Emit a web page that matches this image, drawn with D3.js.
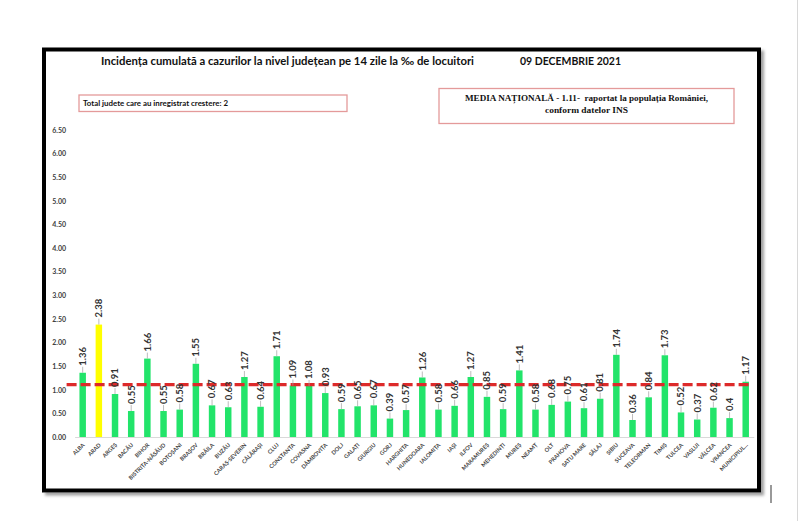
<!DOCTYPE html>
<html>
<head>
<meta charset="utf-8">
<script src="https://cdn.jsdelivr.net/npm/d3@7"></script>
<style>
  body { margin: 0; background: #fff; }
  svg { display: block; }
  .tick text { font-family: Lato, "Open Sans", sans-serif; font-weight: bold; }
</style>
</head>
<body>
<div id="chart"></div>
<script>
// Judete si valorile incidentei (‰ locuitori), 09 decembrie 2021
const judete = ['ALBA', 'ARAD', 'ARGEȘ', 'BACĂU', 'BIHOR', 'BISTRIȚA-NĂSĂUD', 'BOTOȘANI', 'BRAȘOV',
    'BRĂILA', 'BUZĂU', 'CARAȘ-SEVERIN', 'CĂLĂRAȘI', 'CLUJ', 'CONSTANȚA', 'COVASNA', 'DÂMBOVIȚA',
    'DOLJ', 'GALAȚI', 'GIURGIU', 'GORJ', 'HARGHITA', 'HUNEDOARA', 'IALOMIȚA', 'IAȘI', 'ILFOV',
    'MARAMUREȘ', 'MEHEDINȚI', 'MUREȘ', 'NEAMȚ', 'OLT', 'PRAHOVA', 'SATU MARE', 'SĂLAJ', 'SIBIU',
    'SUCEAVA', 'TELEORMAN', 'TIMIȘ', 'TULCEA', 'VASLUI', 'VÂLCEA', 'VRANCEA', 'MUNICIPIUL...'];

const incidenta = [1.36, 2.38, 0.91, 0.55, 1.66, 0.55, 0.58, 1.55,
    0.67, 0.63, 1.27, 0.64, 1.71, 1.09, 1.08, 0.93,
    0.59, 0.65, 0.67, 0.39, 0.57, 1.26, 0.58, 0.66, 1.27,
    0.85, 0.59, 1.41, 0.58, 0.68, 0.75, 0.61, 0.81, 1.74,
    0.36, 0.84, 1.73, 0.52, 0.37, 0.62, 0.4, 1.17];

// judete cu crestere (evidentiate cu galben)
const judeteCrestere = ['ARAD'];

const mediaNationala = 1.11;
const yTicks = [0, 0.5, 1, 1.5, 2, 2.5, 3, 3.5, 4, 4.5, 5, 5.5, 6, 6.5];

const titlu = 'Incidența cumulată a cazurilor la nivel județean pe 14 zile la ‰ de locuitori';
const dataRaport = '09 DECEMBRIE 2021';
const notaCrestere = 'Total judete care au inregistrat crestere: 2';
const notaMedie = ['MEDIA NAȚIONALĂ - 1.11-  raportat la populația României,', 'conform datelor INS'];

const W = 800, H = 521;
const colors = { bar: '#22e46a', up: '#ffff00', media: '#dd2a2a', box: '#e49a9a', text: '#333' };

const svg = d3.select('#chart').append('svg')
    .attr('width', W)
    .attr('height', H);

// Umbra pentru chenar
const defs = svg.append('defs');
const f = defs.append('filter').attr('id', 'umbra')
    .attr('x', '-5%').attr('y', '-5%').attr('width', '110%').attr('height', '110%');
f.append('feDropShadow')
    .attr('dx', 3).attr('dy', 3)
    .attr('stdDeviation', 1.5)
    .attr('flood-color', '#777')
    .attr('flood-opacity', 0.7);

// marginea paginii
svg.append('line')
    .attr('x1', 797.5).attr('x2', 797.5)
    .attr('y1', 0).attr('y2', H)
    .attr('stroke', '#d8d8d8');
svg.append('line')
    .attr('x1', 771).attr('x2', 771)
    .attr('y1', 485).attr('y2', 503)
    .attr('stroke', '#555')
    .attr('stroke-width', 1.2);

// Chenar
svg.append('rect')
    .attr('x', 44).attr('y', 49.5)
    .attr('width', 715).attr('height', 441)
    .attr('fill', '#fff')
    .attr('stroke', '#000')
    .attr('stroke-width', 4)
    .attr('filter', 'url(#umbra)');

// Escalas
const x = d3.scaleBand()
    .domain(judete)
    .range([74.6, 753.8])
    .paddingInner(0.6)
    .paddingOuter(0.3);

const y = d3.scaleLinear()
    .domain([0, 6.5])
    .range([437, 130]);

// Eixo Y
const yAxis = svg.append('g')
    .attr('transform', 'translate(68,0)')
    .call(d3.axisLeft(y).tickValues(yTicks).tickFormat(d3.format('.2f')).tickSize(0).tickPadding(2));
yAxis.select('.domain').remove();
yAxis.selectAll('text')
    .style('font-size', '7px')
    .attr('fill', '#404040');

// Eixo X
const xAxis = svg.append('g')
    .attr('transform', `translate(0,${y(0)})`)
    .call(d3.axisBottom(x).tickSize(0).tickPadding(0));
xAxis.select('.domain')
    .attr('stroke', '#d9d9d9');
xAxis.selectAll('text')
    .style('font-size', '5.6px')
    .attr('fill', '#444')
    .style('text-anchor', 'end')
    .attr('x', 0)
    .attr('y', 0)
    .attr('dy', '0.35em')
    .attr('transform', 'translate(1,7) rotate(-45)');

// Barras
svg.selectAll('.bar')
    .data(judete)
    .enter().append('rect')
    .attr('class', 'bar')
    .attr('x', d => x(d))
    .attr('y', (d, i) => y(incidenta[i]))
    .attr('width', x.bandwidth())
    .attr('height', (d, i) => y(0) - y(incidenta[i]))
    .attr('fill', d => judeteCrestere.includes(d) ? colors.up : colors.bar);

// Linia mediei nationale
svg.append('line')
    .attr('x1', x.range()[0] - 8)
    .attr('x2', x.range()[1] - 4)
    .attr('y1', y(mediaNationala))
    .attr('y2', y(mediaNationala))
    .attr('stroke', colors.media)
    .attr('stroke-width', 3.2)
    .attr('stroke-dasharray', '10,4');

// Etichete valori
const gap = 7;
const labels = svg.selectAll('.val')
    .data(judete)
    .enter().append('g')
    .attr('class', 'val');

labels.append('line')
    .attr('x1', d => x(d) + x.bandwidth() / 2)
    .attr('x2', d => x(d) + x.bandwidth() / 2)
    .attr('y1', (d, i) => y(incidenta[i]))
    .attr('y2', (d, i) => y(incidenta[i]) - gap + 1)
    .attr('stroke', '#a0a0a0')
    .attr('stroke-width', 0.7);

labels.append('text')
    .attr('transform', (d, i) => `translate(${x(d) + x.bandwidth() / 2},${y(incidenta[i]) - gap}) rotate(-90)`)
    .attr('dy', '0.35em')
    .style('font-family', 'Lato, "Open Sans", sans-serif')
    .style('font-weight', 'bold')
    .style('font-size', '9.5px')
    .attr('fill', colors.text)
    .text((d, i) => incidenta[i]);

// Titlu
svg.append('text')
    .attr('x', 101).attr('y', 65)
    .attr('textLength', 373)
    .attr('lengthAdjust', 'spacingAndGlyphs')
    .style('font-family', 'Lato, "Open Sans", sans-serif')
    .style('font-weight', 'bold')
    .style('font-size', '11.5px')
    .attr('fill', '#111')
    .text(titlu);

svg.append('text')
    .attr('x', 520).attr('y', 64.5)
    .attr('textLength', 101)
    .attr('lengthAdjust', 'spacingAndGlyphs')
    .style('font-family', 'Lato, "Open Sans", sans-serif')
    .style('font-weight', 'bold')
    .style('font-size', '11.5px')
    .attr('fill', '#111')
    .text(dataRaport);

// Casete
svg.append('rect')
    .attr('x', 79).attr('y', 95)
    .attr('width', 268).attr('height', 16.5)
    .attr('fill', 'none')
    .attr('stroke', colors.box)
    .attr('stroke-width', 1.3);

svg.append('text')
    .attr('x', 83).attr('y', 105.8)
    .attr('textLength', 145)
    .attr('lengthAdjust', 'spacingAndGlyphs')
    .style('font-family', 'Lato, "Open Sans", sans-serif')
    .style('font-weight', 'bold')
    .style('font-size', '7.5px')
    .attr('fill', '#111')
    .text(notaCrestere);

svg.append('rect')
    .attr('x', 439).attr('y', 88.5)
    .attr('width', 295).attr('height', 35)
    .attr('fill', 'none')
    .attr('stroke', colors.box)
    .attr('stroke-width', 1.3);

svg.selectAll('.media')
    .data(notaMedie)
    .enter().append('text')
    .attr('class', 'media')
    .attr('x', 586.5)
    .attr('y', (d, i) => 100.8 + i * 12.6)
    .attr('text-anchor', 'middle')
    .attr('textLength', (d, i) => i === 0 ? 243 : 83)
    .attr('lengthAdjust', 'spacingAndGlyphs')
    .style('font-family', '"Liberation Serif", "Times New Roman", serif')
    .style('font-weight', 'bold')
    .style('font-size', '9px')
    .style('white-space', 'pre')
    .attr('fill', '#111')
    .text(d => d);
</script>
</body>
</html>
